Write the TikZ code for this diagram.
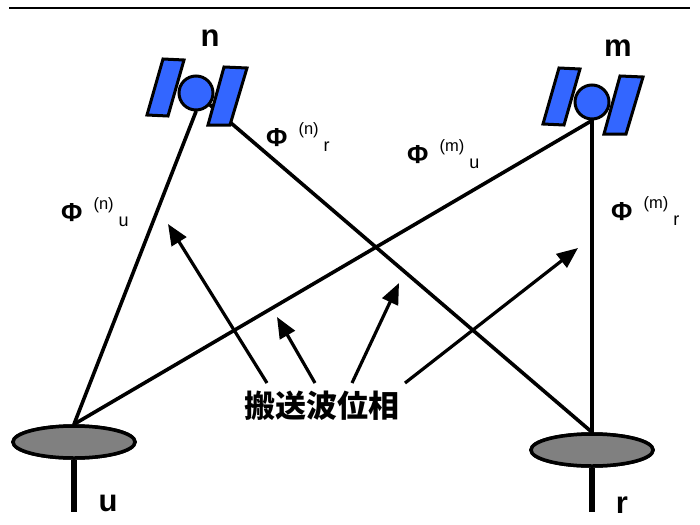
\documentclass[tikz,border=0pt]{standalone}
\usepackage{fontspec}
\setmainfont{Liberation Sans}
\newfontfamily\cjk{Noto Sans CJK JP}
\usetikzlibrary{arrows.meta,shapes.geometric}

\definecolor{satblue}{RGB}{51,102,255}
\definecolor{dishgray}{RGB}{128,128,128}

% phase label: bold Phi, satellite index in parentheses, receiver as subscript
\newcommand\phaselabel[2]{%
  {\fontsize{26}{26}\selectfont\bfseries Φ}%
  \hspace{11pt}\raisebox{12pt}{\fontsize{16.5}{16.5}\selectfont(#1)}%
  \hspace{5pt}\raisebox{-5pt}{\fontsize{18}{18}\selectfont #2}}

\tikzset{
  beam/.style={line width=3.6pt, line cap=round},
  pointer/.style={line width=3.2pt, -{Triangle[length=21pt,width=17pt]}},
  panel/.style={draw, line width=3pt, fill=satblue, line join=miter},
  satbody/.style={circle, draw, line width=3pt, fill=satblue,
    minimum size=34pt, inner sep=0pt},
  dish/.style={ellipse, draw, line width=3.5pt, fill=dishgray,
    minimum width=122pt, minimum height=32pt, inner sep=0pt},
  stem/.style={line width=5.5pt},
  tag/.style={inner sep=0pt, anchor=base, font=\fontsize{31}{31}\selectfont\bfseries},
  phase/.style={inner sep=0pt, anchor=base west},
}

\begin{document}
\begin{tikzpicture}[x=1pt,y=-1pt]
  \useasboundingbox (0,0) rectangle (700,524);

  % rule across the top
  \draw[line width=1.5pt] (9,8) -- (690,8);

  % satellite positions
  \coordinate (posn) at (196,93);
  \coordinate (posm) at (592,102);

  % receivers
  \node[dish] (dishu) at (74,442) {};
  \node[dish] (dishr) at (592,450) {};

  % satellite bodies (placed first, drawn on top later)
  \path (posn) node[satbody, draw=none, fill=none] (satn) {};
  \path (posm) node[satbody, draw=none, fill=none] (satm) {};

  % carrier-phase paths
  \draw[beam] (satn.south) -- (dishu.north);
  \draw[beam] (satn.center) -- (dishr.north);
  \draw[beam] (satm.south) -- (dishu.north);
  \draw[beam] (satm.center) -- (dishr.north);

  % receivers on top of the path ends
  \node[dish] at (dishu) {};
  \node[dish] at (dishr) {};
  \draw[stem] (dishu.south) -- ++(0,52);
  \draw[stem] (dishr.south) -- ++(0,44);

  % satellites: two solar panels and a round body
  \foreach \s in {posn,posm}{
    \begin{scope}[shift={(\s)}]
      \draw[panel] (-33,-34) -- (-12,-33) -- (-28,23) -- (-49,22) -- cycle;
      \draw[panel] (28,-26) -- (51,-25) -- (34,32) -- (12,32) -- cycle;
    \end{scope}
  }
  \node[satbody] at (satn) {};
  \node[satbody] at (satm) {};

  % names
  \node[tag] (lbn) at (210,47) {n};
  \node[tag] (lbm) at (618,57) {m};
  \node[tag] (lbu) at (108,511) {u};
  \node[tag] (lbr) at (622,513) {r};

  % phase labels
  \node[phase] (phnu) at (61,221) {\phaselabel{n}{u}};
  \node[phase] (phnr) at (266,146.5) {\phaselabel{n}{r}};
  \node[phase] (phmu) at (407,163) {\phaselabel{m}{u}};
  \node[phase] (phmr) at (611,220) {\phaselabel{m}{r}};

  % caption and its pointers
  \node[inner sep=0pt] (carrier) at (322,406)
    {\cjk\fontsize{31}{31}\selectfont\bfseries 搬送波位相};

  \coordinate (t1) at (267,383); \coordinate (h1) at (168,224);
  \coordinate (t2) at (315,383); \coordinate (h2) at (277,317);
  \coordinate (t3) at (352,383); \coordinate (h3) at (399,283);
  \coordinate (t4) at (405,383); \coordinate (h4) at (578,248);
  \foreach \i in {1,...,4}{ \draw[pointer] (t\i) -- (h\i); }
\end{tikzpicture}
\end{document}
